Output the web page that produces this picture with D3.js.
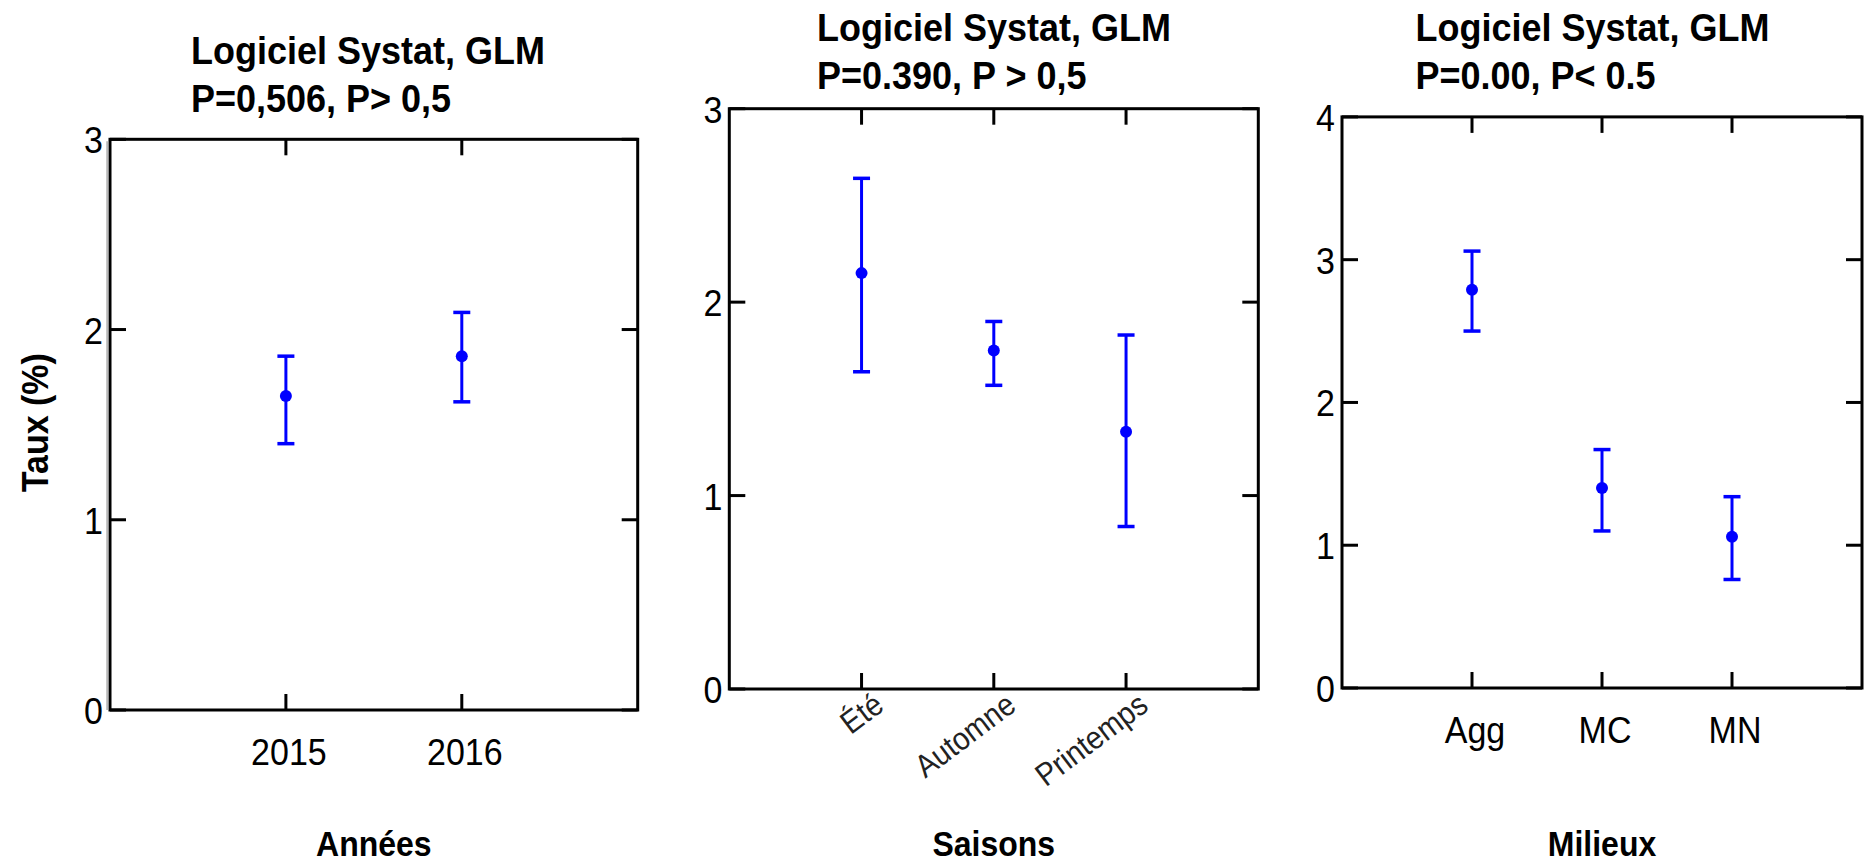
<!DOCTYPE html>
<html>
<head>
<meta charset="utf-8">
<script src="https://cdn.jsdelivr.net/npm/d3@7"></script>
<style>
  html, body { margin: 0; padding: 0; background: #fff; }
  svg { display: block; }
  text { font-family: "Liberation Sans", Arial, sans-serif; fill: #000; }
</style>
</head>
<body>
<svg id="chart" width="1865" height="865"></svg>
<script>
// ---- Data: GLM means with confidence limits (Taux %) ----
const years = ["2015", "2016"];
const yearMean = [1.65, 1.86];
const yearLow = [1.40, 1.62];
const yearHigh = [1.86, 2.09];

const seasons = ["Été", "Automne", "Printemps"];
const seasonMean = [2.15, 1.75, 1.33];
const seasonLow = [1.64, 1.57, 0.84];
const seasonHigh = [2.64, 1.90, 1.83];

const milieux = ["Agg", "MC", "MN"];
const milieuMean = [2.79, 1.40, 1.06];
const milieuLow = [2.50, 1.10, 0.76];
const milieuHigh = [3.06, 1.67, 1.34];

const ticksYear = [0, 1, 2, 3];
const ticksSeason = [0, 1, 2, 3];
const ticksMilieu = [0, 1, 2, 3, 4];

const titleLine1 = "Logiciel Systat, GLM";
const pYear = "P=0,506, P> 0,5";
const pSeason = "P=0.390, P > 0,5";
const pMilieu = "P=0.00, P< 0.5";

const xTitleYear = "Années";
const xTitleSeason = "Saisons";
const xTitleMilieu = "Milieux";
const yTitle = "Taux (%)";

// ---- Panel layout ----
const panels = [
  { cats: years, mean: yearMean, lo: yearLow, hi: yearHigh, ticks: ticksYear,
    p: pYear, xTitle: xTitleYear, rotate: false,
    x0: 110, x1: 637.7, y0: 139.3, y1: 710, titleX: 191, titleGap: 27 },
  { cats: seasons, mean: seasonMean, lo: seasonLow, hi: seasonHigh, ticks: ticksSeason,
    p: pSeason, xTitle: xTitleSeason, rotate: true,
    x0: 729.3, x1: 1258.3, y0: 108.7, y1: 689, titleX: 817, titleGap: 19.5 },
  { cats: milieux, mean: milieuMean, lo: milieuLow, hi: milieuHigh, ticks: ticksMilieu,
    p: pMilieu, xTitle: xTitleMilieu, rotate: false,
    x0: 1342, x1: 1862, y0: 116.9, y1: 688, titleX: 1415.5, titleGap: 27.6 }
];

const svg = d3.select("#chart");
const BLUE = "#0000ff";
const TICK = 16;
const STRETCH = 1.1;   // glyphs are drawn slightly taller than wide

function label(g, x, y, str, opts = {}) {
  const tf = opts.rotate
    ? `translate(${x},${y}) rotate(${opts.rotate}) scale(1,${STRETCH})`
    : `translate(${x},${y}) scale(1,${STRETCH})`;
  const t = g.append("text")
    .attr("transform", tf)
    .attr("font-size", opts.size || 34)
    .attr("font-weight", opts.bold ? "bold" : "normal")
    .attr("text-anchor", opts.anchor || "start")
    .text(str);
  if (opts.fill) t.style("fill", opts.fill);
  return t;
}

panels.forEach(P => {
  const g = svg.append("g");
  const x = d3.scalePoint().domain(P.cats).range([P.x0, P.x1]).padding(1);
  const yMax = d3.max(P.ticks);
  const y = d3.scaleLinear().domain([0, yMax]).range([P.y1, P.y0]);

  // titles
  label(g, P.titleX, P.y0 - P.titleGap - 48.5, titleLine1, { size: 36, bold: true });
  label(g, P.titleX, P.y0 - P.titleGap, P.p, { size: 36, bold: true });

  // frame
  g.append("rect")
    .attr("x", P.x0).attr("y", P.y0)
    .attr("width", P.x1 - P.x0).attr("height", P.y1 - P.y0)
    .attr("fill", "none").attr("stroke", "#000").attr("stroke-width", 3);

  // y ticks, both sides, pointing inward
  g.selectAll(".ytl").data(P.ticks).join("line")
    .attr("x1", P.x0).attr("x2", P.x0 + TICK)
    .attr("y1", d => y(d)).attr("y2", d => y(d))
    .attr("stroke", "#000").attr("stroke-width", 3);
  g.selectAll(".ytr").data(P.ticks).join("line")
    .attr("x1", P.x1 - TICK).attr("x2", P.x1)
    .attr("y1", d => y(d)).attr("y2", d => y(d))
    .attr("stroke", "#000").attr("stroke-width", 3);

  // y tick labels
  P.ticks.forEach(d => label(g, P.x0 - 7, y(d) + 14, String(d), { size: 34, anchor: "end" }));

  // x ticks, top and bottom, pointing inward
  P.cats.forEach(c => {
    g.append("line").attr("x1", x(c)).attr("x2", x(c))
      .attr("y1", P.y0).attr("y2", P.y0 + TICK)
      .attr("stroke", "#000").attr("stroke-width", 3);
    g.append("line").attr("x1", x(c)).attr("x2", x(c))
      .attr("y1", P.y1 - TICK).attr("y2", P.y1)
      .attr("stroke", "#000").attr("stroke-width", 3);
  });

  // x tick labels
  P.cats.forEach(c => {
    if (P.rotate) {
      label(g, x(c) + 24, P.y1 + 20, c, { size: 29, anchor: "end", rotate: -37, fill: "#222" });
    } else {
      label(g, x(c) + 3, P.y1 + 55, c, { size: 34, anchor: "middle" });
    }
  });

  // x axis title
  label(g, (P.x0 + P.x1) / 2, 856, P.xTitle, { size: 32, bold: true, anchor: "middle" });

  // error bars
  const rows = P.cats.map((c, i) => ({ c, m: P.mean[i], lo: P.lo[i], hi: P.hi[i] }));
  const CAP = 8.5;
  g.selectAll(".stem").data(rows).join("line")
    .attr("x1", d => x(d.c)).attr("x2", d => x(d.c))
    .attr("y1", d => y(d.lo)).attr("y2", d => y(d.hi))
    .attr("stroke", BLUE).attr("stroke-width", 3);
  g.selectAll(".capH").data(rows).join("line")
    .attr("x1", d => x(d.c) - CAP).attr("x2", d => x(d.c) + CAP)
    .attr("y1", d => y(d.hi)).attr("y2", d => y(d.hi))
    .attr("stroke", BLUE).attr("stroke-width", 3.5);
  g.selectAll(".capL").data(rows).join("line")
    .attr("x1", d => x(d.c) - CAP).attr("x2", d => x(d.c) + CAP)
    .attr("y1", d => y(d.lo)).attr("y2", d => y(d.lo))
    .attr("stroke", BLUE).attr("stroke-width", 3.5);
  g.selectAll(".pt").data(rows).join("circle")
    .attr("cx", d => x(d.c)).attr("cy", d => y(d.m)).attr("r", 6)
    .attr("fill", BLUE);
});

// faint grey edge along the first panel's left axis
const p0 = panels[0];
svg.append("line")
  .attr("x1", p0.x0 - 2.5).attr("x2", p0.x0 - 2.5)
  .attr("y1", p0.y0 + 2).attr("y2", p0.y1)
  .attr("stroke", "#9a9a9a").attr("stroke-width", 2.5).attr("opacity", 0.7);

// y axis title
label(svg, 48, (p0.y0 + p0.y1) / 2 - 2, yTitle, { size: 34, bold: true, anchor: "middle", rotate: -90 });
</script>
</body>
</html>
